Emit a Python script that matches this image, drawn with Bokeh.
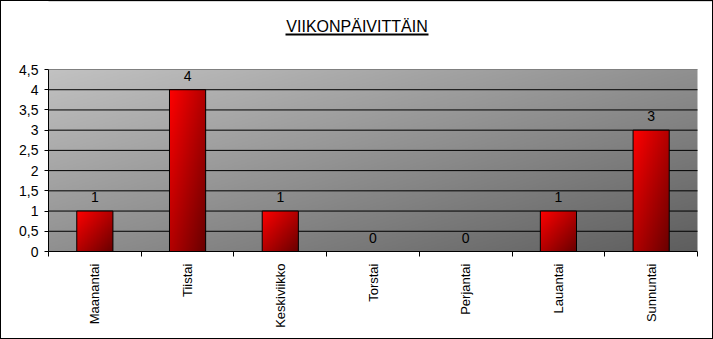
import numpy as np
from bokeh.plotting import figure
from bokeh.models import (FixedTicker, CustomJSTickFormatter, Label,
                          BoxAnnotation, ColumnDataSource, Range1d)
from bokeh.core.properties import value
from bokeh.embed import file_html
from bokeh.resources import INLINE

# ---- data ----
title_text = "VIIKONPÄIVITTÄIN"
days = ["Maanantai", "Tiistai", "Keskiviikko", "Torstai", "Perjantai", "Lauantai", "Sunnuntai"]
counts = [1, 4, 1, 0, 0, 1, 3]
y_ticks = [0, 0.5, 1, 1.5, 2, 2.5, 3, 3.5, 4, 4.5]

FONT = "Liberation Sans"
W, H = 713, 339
# plot-area box on the canvas (px)
PA_L, PA_R, PA_T, PA_B = 48, 697, 69, 251
n = len(days)
idx = list(range(n))
bar_w = 0.39
y_max = y_ticks[-1]
x0, x1 = -0.5, n - 0.5

# frame spans from canvas top / right edge so the title can live inside it
px_per_x = (PA_R - PA_L) / (x1 - x0)
px_per_y = (PA_B - PA_T) / y_max
x_end = x1 + (W - PA_R) / px_per_x
y_end = y_max + PA_T / px_per_y


def gradient_rgba(h, w, c0, c1):
    u = np.linspace(0, 1, w)[None, :]
    v = np.linspace(1, 0, h)[:, None]
    t = (u + v) / 2.0
    arr = np.zeros((h, w, 4), dtype=np.uint8)
    for k in range(3):
        arr[:, :, k] = np.clip(c0[k] + (c1[k] - c0[k]) * t, 0, 255).astype(np.uint8)
    arr[:, :, 3] = 255
    return arr.view(np.uint32).reshape(h, w)


def sx(cx):  # canvas x -> frame screen x
    return cx - PA_L


def sy(cy):  # canvas y (from top) -> frame screen y (from frame bottom)
    return PA_B - cy


p = figure(width=W, height=H, output_backend="svg", toolbar_location=None,
           x_range=Range1d(x0, x_end), y_range=Range1d(0, y_end),
           min_border_left=PA_L, min_border_right=0, min_border_top=0,
           min_border_bottom=H - PA_B, title=None)
p.outline_line_color = None
p.background_fill_color = None
p.border_fill_color = None
p.xgrid.visible = False
p.ygrid.visible = False
p.styles = {"outline": "1px solid black", "outline-offset": "-1px",
            "background-color": "white"}

# plot-area gradient background
bg = gradient_rgba(200, 700, (194, 194, 194), (94, 94, 94))
p.image_rgba(image=[bg], x=x0, y=0, dw=x1 - x0, dh=y_max)

# horizontal gridlines (black), top edge gray
gl = [t for t in y_ticks if 0 < t < y_max]
p.segment(x0=[x0] * len(gl), x1=[x1] * len(gl), y0=gl, y1=gl, line_color="black", line_width=1)
p.segment(x0=[x0], x1=[x1], y0=[y_max], y1=[y_max], line_color="#808080", line_width=1)

# bars with gradient fill
nz = [i for i in idx if counts[i] > 0]
bar_img = gradient_rgba(120, 60, (255, 0, 0), (105, 0, 0))
p.image_rgba(image=[bar_img] * len(nz), x=[i - bar_w / 2 for i in nz], y=[0] * len(nz),
             dw=[bar_w] * len(nz), dh=[counts[i] for i in nz])
src = ColumnDataSource(dict(x=idx, top=counts, lbl=[str(c) for c in counts]))
p.vbar(x="x", top="top", width=bar_w, source=src, fill_alpha=0,
       line_color="black", line_width=1)

p.text(x="x", y="top", text="lbl", source=src, text_align="center",
       text_baseline="alphabetic", y_offset=-14, text_font=value(FONT),
       text_font_size="14px", text_color="black")

ya = p.yaxis[0]
ya.bounds = (0, y_max)
ya.ticker = FixedTicker(ticks=y_ticks)
ya.formatter = CustomJSTickFormatter(code="return tick.toString().replace('.', ',')")
ya.major_tick_out = 4
ya.major_tick_in = 0
ya.minor_tick_line_color = None
ya.axis_line_color = "black"
ya.major_tick_line_color = "black"
ya.major_label_text_font = FONT
ya.major_label_text_font_size = "14px"
ya.major_label_text_color = "black"
ya.major_label_standoff = 6

xa = p.xaxis[0]
xa.bounds = (x0, x1)
xa.ticker = FixedTicker(ticks=idx, minor_ticks=[i - 0.5 for i in range(n + 1)])
xa.formatter = CustomJSTickFormatter(args=dict(labels=days),
                                     code="return labels[Math.round(tick)]")
xa.major_label_orientation = np.pi / 2
xa.major_tick_out = 0
xa.major_tick_in = 0
xa.minor_tick_out = 5
xa.minor_tick_in = 0
xa.minor_tick_line_color = "black"
xa.axis_line_color = "black"
xa.major_label_text_font = FONT
xa.major_label_text_font_size = "13px"
xa.major_label_text_color = "black"
xa.major_label_standoff = 7

# title with underline
p.add_layout(Label(x=sx(356.5), y=sy(26), x_units="screen", y_units="screen",
                   text=title_text, text_align="center", text_baseline="alphabetic",
                   text_font=FONT, text_font_size="16px", text_color="black"))
p.add_layout(BoxAnnotation(left=sx(285), right=sx(428), top=sy(33), bottom=sy(35),
                           left_units="screen", right_units="screen",
                           top_units="screen", bottom_units="screen",
                           fill_color="black", fill_alpha=1, line_color=None))
# top/right edges of the chart border (inside the frame)
p.add_layout(BoxAnnotation(left=sx(0.5), right=sx(W - 0.5), top=sy(0.5), bottom=sy(H - 0.5),
                           left_units="screen", right_units="screen",
                           top_units="screen", bottom_units="screen",
                           fill_alpha=0, line_color="black", line_width=1))

open("out.html", "w").write(file_html(p, INLINE))
